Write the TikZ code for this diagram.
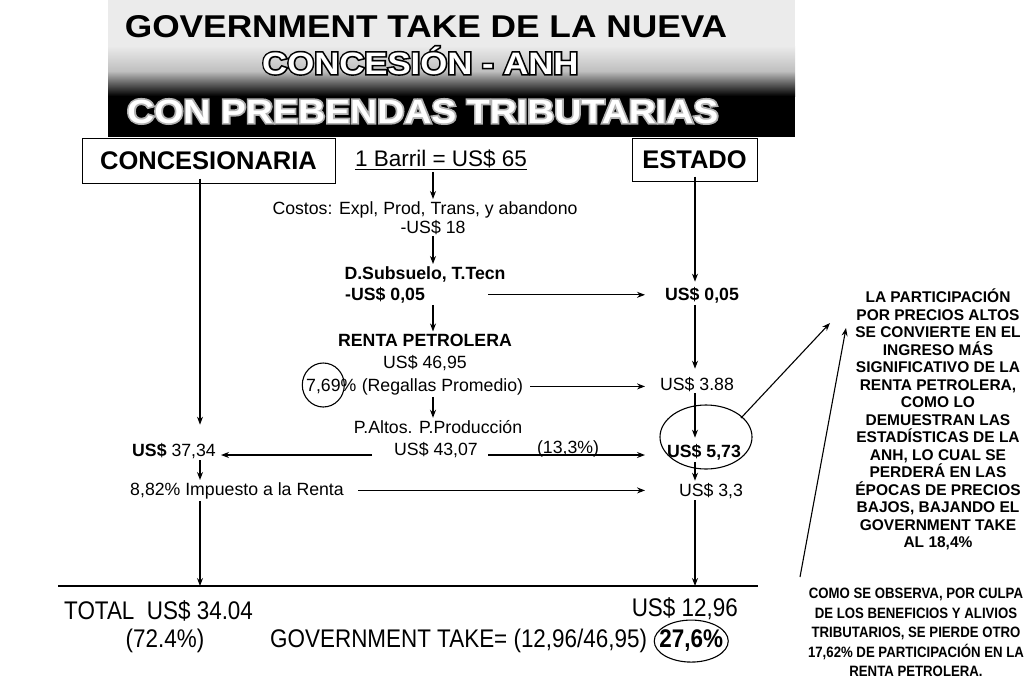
\documentclass[tikz,border=0pt]{standalone}
\usepackage{fontspec}
\setmainfont{Liberation Sans}
\newfontfamily\narrowfont[FakeStretch=0.88]{Liberation Sans}
\newfontfamily\widefont[FakeStretch=1.12]{Liberation Sans}
\newfontfamily\widefat[FakeStretch=1.12,FakeBold=10]{Liberation Sans Bold}
\usetikzlibrary{arrows.meta}
\newcommand{\myfs}[2]{\fontsize{#1}{#2}\selectfont}
\tikzset{
  txt/.style={inner sep=2pt, anchor=base, font=\myfs{17.7}{20}},
  bld/.style={inner sep=2pt, anchor=base, font=\bfseries\myfs{17.7}{20}},
  hdr/.style={draw, line width=1pt, inner sep=0pt, font=\bfseries\myfs{25.5}{28}},
  arr/.style={line width=1.1pt, -{Stealth[length=8pt,width=6pt]}},
  nar/.style={inner sep=2pt, anchor=base, font=\narrowfont\myfs{25.5}{28}},
  narb/.style={inner sep=2pt, anchor=base, font=\narrowfont\bfseries\myfs{25.5}{28}},
  noteA/.style={inner sep=0pt, align=center, font=\bfseries\myfs{15.5}{17.5}},
  noteB/.style={inner sep=0pt, align=center, font=\narrowfont\bfseries\myfs{15}{19.5}},
  tA/.style={inner sep=0pt, anchor=base, font=\widefont\bfseries\myfs{31.5}{34}},
  tB/.style={inner sep=0pt, anchor=base west, font=\widefont\bfseries\myfs{31}{34}},
  tBo/.style={inner sep=0pt, anchor=base west, font=\widefat\myfs{31}{34}},
  tC/.style={inner sep=0pt, anchor=base west, font=\widefont\bfseries\myfs{33.5}{36}},
  tCo/.style={inner sep=0pt, anchor=base west, font=\widefat\myfs{33.5}{36}},
  ring/.style={line width=1.1pt}
}
\begin{document}
\begin{tikzpicture}[x=1pt,y=-1pt]
\useasboundingbox (0,0) rectangle (1024,688);
\fill[white] (0,0) rectangle (1024,688);

% ---- title band ----
\fill[gray!16] (108,0) rectangle (795,46);
\shade[top color=gray!16, bottom color=black, middle color=gray!50] (108,46) rectangle (795,96);
\fill[black] (108,96) rectangle (795,137);
\node[tA] (t1) at (426,37) {GOVERNMENT TAKE DE LA NUEVA};
\node[tBo, text=black] (t2o) at (262,74) {CONCESIÓN - ANH};
\node[tB, text=white] (t2) at (262,74) {CONCESIÓN - ANH};
\node[tCo, text=gray!60] (t3o) at (127,123) {CON PREBENDAS TRIBUTARIAS};
\node[tC, text=white] (t3) at (127,123) {CON PREBENDAS TRIBUTARIAS};

% ---- headers ----
\node[hdr, minimum width=253, minimum height=45] (conc) at (208.5,160.5) {CONCESIONARIA};
\node[hdr, minimum width=125, minimum height=43] (estado) at (694.5,159.5) {ESTADO};
\node[inner sep=2pt, anchor=base, font=\myfs{22.5}{25}] (barril) at (441,166) {\underline{1 Barril = US\$ 65}};

% ---- column coordinates ----
\coordinate (cL) at (200,0);
\coordinate (cM) at (433,0);
\coordinate (cE) at (695,0);
\coordinate (rs) at (488,0);
\coordinate (rs2) at (530,0);
\coordinate (rs3) at (358,0);
\coordinate (re) at (645,0);
\coordinate (ls) at (372,0);
\coordinate (le) at (221,0);

% ---- central column ----
\node[txt] (costos) at (425,214) {Costos: Expl, Prod, Trans, y abandono};
\node[txt] (m18) at (433,233) {-US\$ 18};
\node[bld] (dsub) at (425,279) {D.Subsuelo, T.Tecn};
\node[bld, anchor=base west] (m005) at (343,300) {-US\$ 0,05};
\node[bld] (renta) at (425,346) {RENTA PETROLERA};
\node[txt] (r4695) at (425,368) {US\$ 46,95};
\node[txt, anchor=base west] (p769) at (304,391) {7,69\%};
\node[txt, anchor=base west] (regal) at ([xshift=1]p769.base east) {(Regallas Promedio)};
\node[txt] (paltos) at (438,433) {P.Altos. P.Producción};
\node[txt] (r4307) at (436,455) {US\$ 43,07};
\node[txt] (s3734) at (174,456) {\textbf{US\$} 37,34};
\node[txt, inner sep=0pt] (p133) at (568,453.5) {(13,3\%)};
\node[txt] (imp) at (237,495) {8,82\% Impuesto a la Renta};

% ---- estado column ----
\node[bld] (e005) at (702,300) {US\$ 0,05};
\node[txt] (e388) at (697,390) {US\$ 3.88};
\node[bld] (e573) at (704,457) {US\$ 5,73};
\node[txt] (e33) at (711,496) {US\$ 3,3};

% ---- arrows, central ----
\draw[arr] (cM |- barril.south) -- (cM |- costos.north);
\draw[arr] (cM |- m18.south) -- (cM |- dsub.north);
\draw[arr] (cM |- m005.south) -- (cM |- renta.north);
\draw[arr] (cM |- regal.south) -- (cM |- paltos.north);
\draw[arr] (rs |- m005) -- (re |- m005);
\draw[arr] (rs2 |- regal) -- (re |- regal);
\draw[arr] (ls |- r4307.base) -- (le |- r4307.base);
\draw[arr] (rs |- r4307.base) -- (re |- r4307.base);
\draw[arr] (rs3 |- imp) -- (re |- imp);

% ---- arrows, left column ----
\draw[arr, shorten >=16pt] ([yshift=5]cL |- conc.south) -- (cL |- s3734.north);
\draw[arr] (cL |- s3734.south) -- (cL |- imp.north);

% ---- arrows, estado column ----
\draw[arr, shorten >=3pt] ([yshift=5]cE |- estado.south) -- (cE |- e005.north);
\draw[arr, shorten >=6pt] (cE |- e005.south) -- (cE |- e388.north);
\draw[arr, shorten >=4pt] (cE |- e388.south) -- (cE |- e573.north);
\draw[arr] (cE |- e573.south) -- (cE |- e33.north);

% ---- circles ----
\coordinate (c769) at ([xshift=-8,yshift=6]p769.base);
\draw[ring] (c769) ellipse [x radius=21, y radius=22];
\draw[ring] (706,437) ellipse [x radius=46, y radius=32];

% ---- bottom ----
\coordinate (bl1) at (58,586);
\coordinate (bl2) at (758,586);
\draw[line width=1.8pt] (bl1) -- (bl2);
\draw[arr] (cL |- imp.south) -- (cL |- bl1);
\draw[arr] (cE |- e33.south) -- (cE |- bl1);
\node[nar, anchor=base west] (total) at (62,619) {TOTAL\ \ US\$ 34.04};
\node[nar] (p724) at (165,647) {(72.4\%)};
\node[nar, anchor=base east] (e1296) at (740,616) {US\$ 12,96};
\node[nar, anchor=base west] (gov) at (268,647) {GOVERNMENT TAKE= (12,96/46,95)};
\node[narb, anchor=base west] (p276) at ([xshift=8]gov.base east) {27,6\%};
\draw[ring] ([yshift=-1]p276.center) ellipse [x radius=37, y radius=21];

% ---- notes ----
\node[noteA, anchor=north] (noteA) at (938,289) {LA PARTICIPACIÓN\\POR PRECIOS ALTOS\\SE CONVIERTE EN EL\\INGRESO MÁS\\SIGNIFICATIVO DE LA\\RENTA PETROLERA,\\COMO LO\\DEMUESTRAN LAS\\ESTADÍSTICAS DE LA\\ANH, LO CUAL SE\\PERDERÁ EN LAS\\ÉPOCAS DE PRECIOS\\BAJOS, BAJANDO EL\\GOVERNMENT TAKE\\AL 18,4\%};
\node[noteB, anchor=north] (noteB) at (916,588) {COMO SE OBSERVA, POR CULPA\\DE LOS BENEFICIOS Y ALIVIOS\\TRIBUTARIOS, SE PIERDE OTRO\\17,62\% DE PARTICIPACIÓN EN LA\\RENTA PETROLERA.};
\coordinate (aA1) at (741,418);
\coordinate (aA2) at (830,323);
\coordinate (aB1) at (800,577);
\coordinate (aB2) at (846,328);
\draw[arr] (aA1) -- (aA2);
\draw[arr] (aB1) -- (aB2);
\end{tikzpicture}
\end{document}
